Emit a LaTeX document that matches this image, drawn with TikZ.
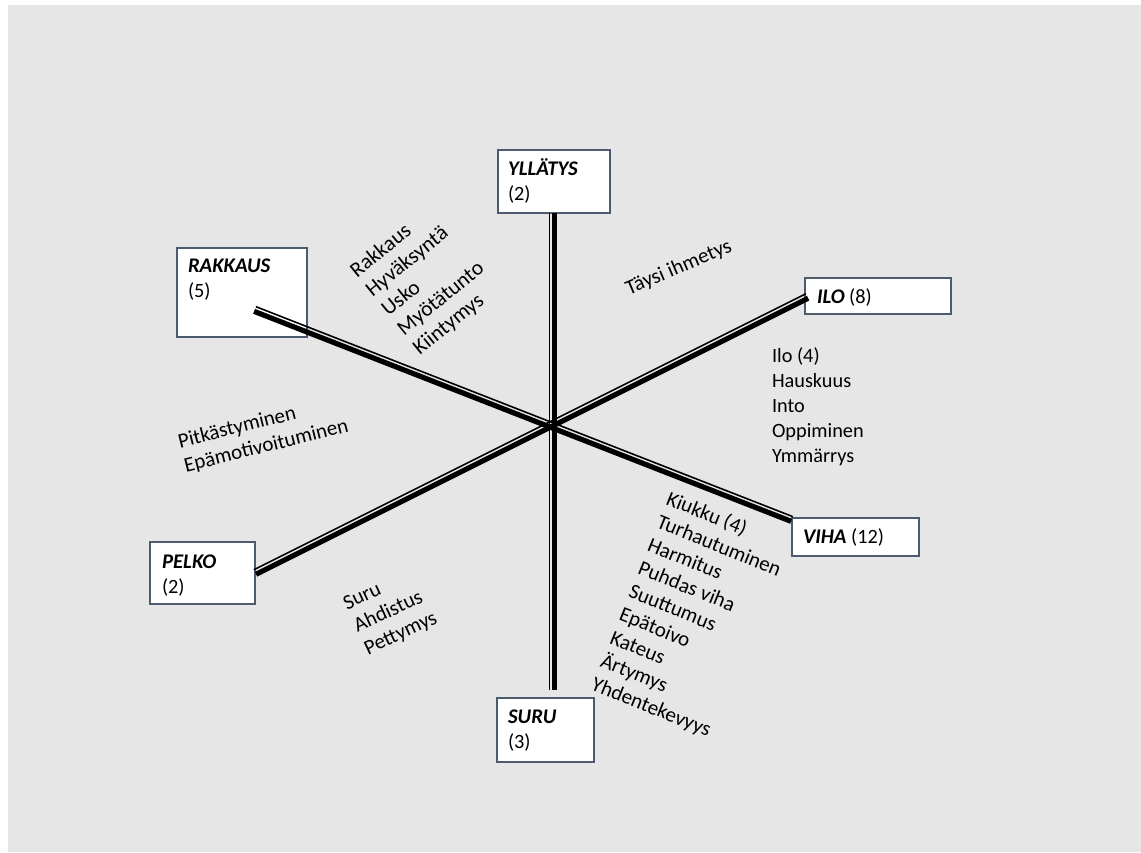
\documentclass[tikz,border=0pt]{standalone}
\usepackage{fontspec}
\setmainfont{Carlito}
\usetikzlibrary{calc}
\definecolor{bg}{HTML}{E7E6E6}
\definecolor{bord}{HTML}{4D5B6F}
\newcommand\dblline[4]{%
  \draw[thinpart] ($(#1)!2.5pt!#3:(#2)$) -- ($(#2)!2.5pt!#4:(#1)$);
  \draw[thickpart] ($(#1)!2.5pt!#4:(#2)$) -- ($(#2)!2.5pt!#3:(#1)$);}
\begin{document}
\begin{tikzpicture}[x=1pt,y=-1pt,
  every node/.style={inner sep=0pt, outer sep=0pt},
  txt/.style={font=\fontsize{20.3pt}{25pt}\selectfont, anchor=base west, text=black},
  rtxt/.style={txt, font=\fontsize{21pt}{25pt}\selectfont},
  hd/.style={txt, font=\fontsize{20.8pt}{25pt}\selectfont\bfseries\itshape},
  box/.style={draw=bord, line width=1.2pt, fill=white, anchor=north west},
  thinpart/.style={line width=1.6pt, black},
  thickpart/.style={line width=5.2pt, black}]
\useasboundingbox (0,0) rectangle (1141,852);
\fill[white] (0,0) rectangle (1141,852);
\fill[bg] (8,5) rectangle (1141,852);

% boxes
\node[box, minimum width=112pt, minimum height=63pt] (yB) at (498,150) {};
\node[box, minimum width=130pt, minimum height=89pt] (rB) at (177,248) {};
\node[box, minimum width=146pt, minimum height=36pt] (iB) at (805,278) {};
\node[box, minimum width=105pt, minimum height=62pt] (pB) at (150,542) {};
\node[box, minimum width=127pt, minimum height=38pt] (vB) at (792,518) {};
\node[box, minimum width=97pt, minimum height=64pt] (sB) at (497,698) {};

% axes
\coordinate (yE) at (552,213);
\coordinate (sE) at (552,690);
\coordinate (rE) at (255,309);
\coordinate (vE) at (792,519);
\coordinate (pE) at (255,572);
\coordinate (iE) at (807,296);
\dblline{yE}{sE}{-90}{90}
\dblline{rE}{vE}{90}{-90}
\dblline{pE}{iE}{90}{-90}

% box labels
\node[hd] (yT) at (508,175) {YLLÄTYS};
\node[txt] (yN) at (508,200) {(2)};
\node[hd] (rT) at (188,272) {RAKKAUS};
\node[txt] (rN) at (188,297) {(5)};
\node[txt] (iT) at (817,303) {{\fontsize{20.8pt}{25pt}\selectfont\bfseries\itshape ILO} (8)};
\node[hd] (pT) at (162,568) {PELKO};
\node[txt] (pN) at (162,593) {(2)};
\node[txt] (vT) at (803,543) {{\fontsize{20.8pt}{25pt}\selectfont\bfseries\itshape VIHA} (12)};
\node[hd] (sT) at (508,723) {SURU};
\node[txt] (sN) at (508,748) {(3)};

% lists
\begin{scope}[shift={(357,278)}, rotate=39, transform shape]
  \foreach \w [count=\i from 0] in {Rakkaus, Hyväksyntä, Usko, Myötätunto, Kiintymys}
    \node[rtxt, font=\fontsize{21.5pt}{25pt}\selectfont] (rk\i) at (0,25*\i) {\w};
\end{scope}
\node[rtxt, rotate=23] (ti) at (629,295) {Täysi ihmetys};
\begin{scope}[shift={(772,362)}]
  \foreach \w [count=\i from 0] in {Ilo (4), Hauskuus, Into, Oppiminen, Ymmärrys}
    \node[txt] (il\i) at (0,25*\i) {\w};
\end{scope}
\begin{scope}[shift={(180,448)}, rotate=14, transform shape]
  \foreach \w [count=\i from 0] in {Pitkästyminen, Epämotivoituminen}
    \node[rtxt] (pk\i) at (0,25*\i) {\w};
\end{scope}
\begin{scope}[shift={(347,610)}, rotate=25, transform shape]
  \foreach \w [count=\i from 0] in {Suru, Ahdistus, Pettymys}
    \node[rtxt] (su\i) at (0,25*\i) {\w};
\end{scope}
\begin{scope}[shift={(665,504)}, rotate=-22, transform shape]
  \foreach \w [count=\i from 0] in {Kiukku (4), Turhautuminen, Harmitus, Puhdas viha, Suuttumus, Epätoivo, Kateus, Ärtymys, Yhdentekevyys}
    \node[rtxt] (vi\i) at (0,25*\i) {\w};
\end{scope}
\end{tikzpicture}
\end{document}
